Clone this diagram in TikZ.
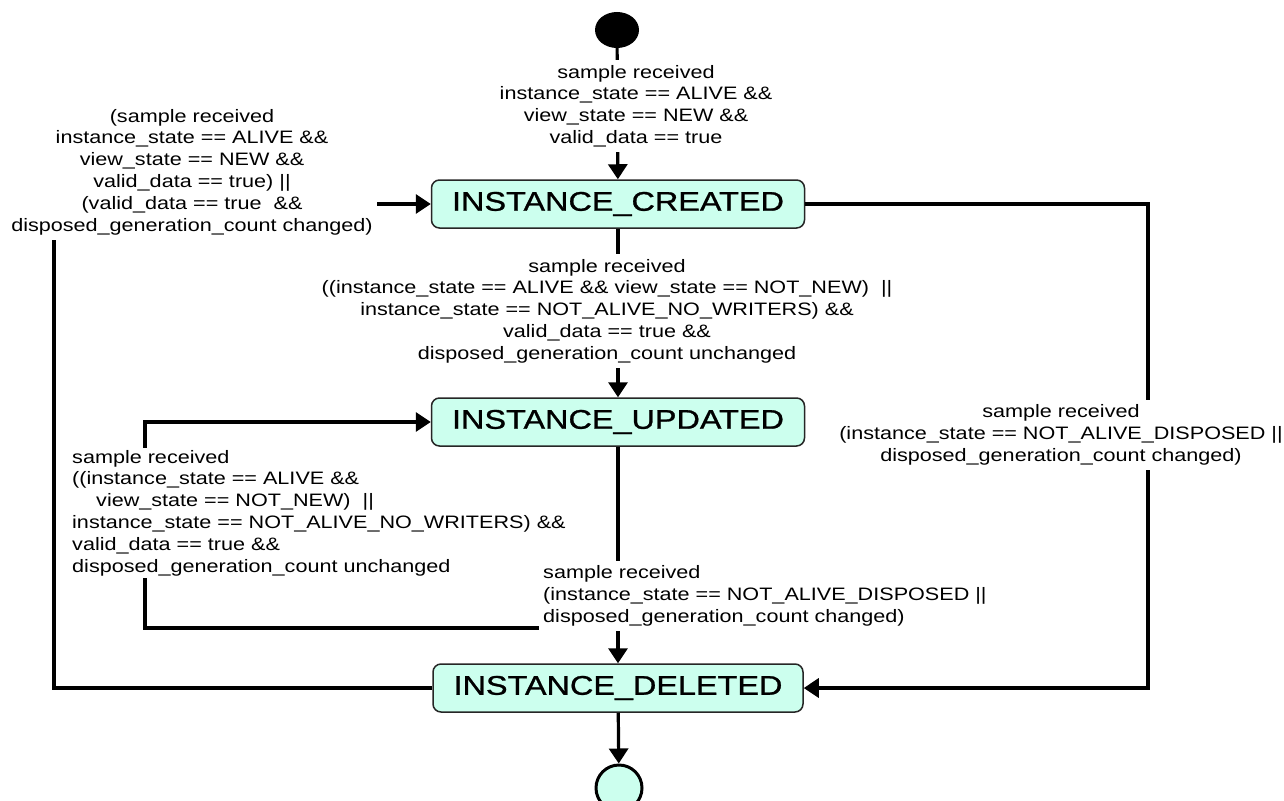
\documentclass[tikz,border=0pt]{standalone}
\usepackage{fontspec}
\setmainfont{Liberation Sans}[FakeStretch=1.2]
\newfontfamily\statefont{Liberation Sans}[FakeStretch=1.2,FakeBold=1]
\usepackage{tikz}
\usetikzlibrary{arrows.meta,shapes.geometric}
\definecolor{statefill}{RGB}{204,255,238}

\begin{document}
\begin{tikzpicture}[x=1pt,y=-1pt,>={Triangle[length=15pt,width=19pt]}]
\tikzstyle{every node}+=[font=\fontsize{18}{21.8}\selectfont]
\tikzstyle{state}=[draw=black!85,line width=1.5pt,fill=statefill,rounded corners=8pt,minimum height=48pt,font=\statefont\fontsize{27}{27}\selectfont]
\tikzstyle{guard}=[fill=white,inner xsep=4pt,inner ysep=2pt]
\tikzstyle{flow}=[black,line width=3.2pt]
\useasboundingbox [fill=white] (0,0) rectangle (1284,800);
\node [ellipse,fill=black,minimum width=44pt,minimum height=36pt,inner sep=0pt] (start) at (617,30) {};
\node [state,minimum width=373pt] (created) at (618,204) {INSTANCE\_CREATED};
\node [state,minimum width=373pt] (updated) at (618,422) {INSTANCE\_UPDATED};
\node [state,minimum width=370pt] (deleted) at (618,688) {INSTANCE\_DELETED};
\node [circle,draw=black,line width=3pt,fill=statefill,minimum size=46pt,inner sep=0pt] (end) at (619,788) {};
\coordinate (loopbot) at (145,628);
\coordinate (leftcorner) at (54,204);
\coordinate (rightcorner) at (1148,204);
\draw [flow,->] (start) -- (created);
\draw [flow,->] (created) -- (updated);
\draw [flow,->] (updated) -- (deleted);
\draw [flow,->] (deleted) -- (end);
\draw [flow,->] (updated.south) |- (loopbot) |- (updated.west);
\draw [flow,->] (deleted.west) -| (leftcorner) -- (created.west);
\draw [flow,->] (created.east) -- (rightcorner) |- (deleted.east);
\node [guard,inner ysep=5pt,align=center] (g1) at (636,106) {sample received\\instance\_state == ALIVE \&\&\\view\_state == NEW \&\&\\valid\_data == true};
\node [guard,inner ysep=5pt,align=center] (g2) at (607,311) {sample received\\((instance\_state == ALIVE \&\& view\_state == NOT\_NEW)\ \ ||\\instance\_state == NOT\_ALIVE\_NO\_WRITERS) \&\&\\valid\_data == true \&\&\\disposed\_generation\_count unchanged};
\node [guard,align=left,anchor=west] (g4) at (68,513) {sample received\\((instance\_state == ALIVE \&\&\\\hspace*{24pt}view\_state == NOT\_NEW)\ \ ||\\instance\_state == NOT\_ALIVE\_NO\_WRITERS) \&\&\\valid\_data == true \&\&\\disposed\_generation\_count unchanged};
\node [guard,inner ysep=5pt,align=left,anchor=west] (g3) at (539,596) {sample received\\(instance\_state == NOT\_ALIVE\_DISPOSED ||\\disposed\_generation\_count changed)};
\node [guard,inner ysep=5pt,align=center] (g5) at (192,172) {(sample received\\instance\_state == ALIVE \&\&\\view\_state == NEW \&\&\\valid\_data == true) ||\\(valid\_data == true\ \ \&\&\\disposed\_generation\_count changed)};
\node [guard,inner ysep=5pt,align=center] (g6) at (1061,435) {sample received\\(instance\_state == NOT\_ALIVE\_DISPOSED ||\\disposed\_generation\_count changed)};
\end{tikzpicture}
\end{document}
